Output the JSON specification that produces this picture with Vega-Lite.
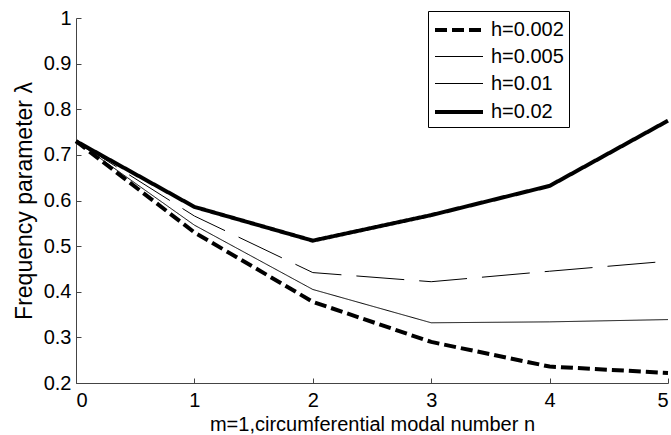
{
  "$schema": "https://vega.github.io/schema/vega-lite/v6.json",
  "autosize": "none",
  "width": 592,
  "height": 365,
  "padding": {"left": 76, "top": 18, "right": 3, "bottom": 52},
  "background": "white",
  "config": {
    "view": {"stroke": null},
    "font": "Liberation Sans",
    "axis": {
      "grid": false,
      "domainColor": "#444",
      "tickColor": "#444",
      "tickSize": -5,
      "labelFont": "Liberation Sans",
      "titleFont": "Liberation Sans",
      "labelFontSize": 20,
      "titleFontSize": 20,
      "labelColor": "black",
      "titleColor": "black",
      "titleFontWeight": "normal"
    }
  },
  "data": {
    "values": [
      {"n": 0, "lambda": 0.73, "h": "h=0.002"},
      {"n": 1, "lambda": 0.53, "h": "h=0.002"},
      {"n": 2, "lambda": 0.378, "h": "h=0.002"},
      {"n": 3, "lambda": 0.29, "h": "h=0.002"},
      {"n": 4, "lambda": 0.236, "h": "h=0.002"},
      {"n": 5, "lambda": 0.222, "h": "h=0.002"},
      {"n": 0, "lambda": 0.73, "h": "h=0.005"},
      {"n": 1, "lambda": 0.546, "h": "h=0.005"},
      {"n": 2, "lambda": 0.405, "h": "h=0.005"},
      {"n": 3, "lambda": 0.332, "h": "h=0.005"},
      {"n": 4, "lambda": 0.334, "h": "h=0.005"},
      {"n": 5, "lambda": 0.339, "h": "h=0.005"},
      {"n": 0, "lambda": 0.73, "h": "h=0.01"},
      {"n": 1, "lambda": 0.566, "h": "h=0.01"},
      {"n": 2, "lambda": 0.442, "h": "h=0.01"},
      {"n": 3, "lambda": 0.422, "h": "h=0.01"},
      {"n": 4, "lambda": 0.445, "h": "h=0.01"},
      {"n": 5, "lambda": 0.467, "h": "h=0.01"},
      {"n": 0, "lambda": 0.73, "h": "h=0.02"},
      {"n": 1, "lambda": 0.586, "h": "h=0.02"},
      {"n": 2, "lambda": 0.512, "h": "h=0.02"},
      {"n": 3, "lambda": 0.568, "h": "h=0.02"},
      {"n": 4, "lambda": 0.632, "h": "h=0.02"},
      {"n": 5, "lambda": 0.775, "h": "h=0.02"}
    ]
  },
  "mark": {"type": "line", "color": "black", "clip": false},
  "encoding": {
    "x": {
      "field": "n", "type": "quantitative",
      "scale": {"domain": [0, 5], "nice": false, "zero": false},
      "axis": {"values": [0, 1, 2, 3, 4, 5], "format": "d", "title": "m=1,circumferential modal number n", "labelPadding": 12, "titlePadding": 4}
    },
    "y": {
      "field": "lambda", "type": "quantitative",
      "scale": {"domain": [0.2, 1], "nice": false, "zero": false},
      "axis": {"values": [0.2, 0.3, 0.4, 0.5, 0.6, 0.7, 0.8, 0.9, 1], "labelExpr": "datum.value == 1 ? '1' : format(datum.value, '.1f')", "title": "Frequency parameter λ", "titleFontSize": 23, "labelPadding": 10, "titlePadding": 7}
    },
    "strokeDash": {
      "field": "h", "type": "nominal",
      "scale": {"type": "ordinal", "domain": ["h=0.002", "h=0.005", "h=0.01", "h=0.02"], "range": [[12, 5], [1, 0], [48, 15], [1, 0]]},
      "legend": {
        "orient": "none", "legendX": 352, "legendY": -7, "title": null,
        "strokeColor": "black", "fillColor": "white", "padding": 5,
        "symbolType": "M-1,0H3", "symbolSize": 576, "symbolStrokeColor": "black",
        "labelFontSize": 20, "labelFont": "Liberation Sans", "labelColor": "black",
        "rowPadding": 4, "labelOffset": 30
      }
    },
    "strokeWidth": {
      "field": "h", "type": "nominal",
      "scale": {"type": "ordinal", "domain": ["h=0.002", "h=0.005", "h=0.01", "h=0.02"], "range": [4, 1, 1, 4]}
    }
  }
}
